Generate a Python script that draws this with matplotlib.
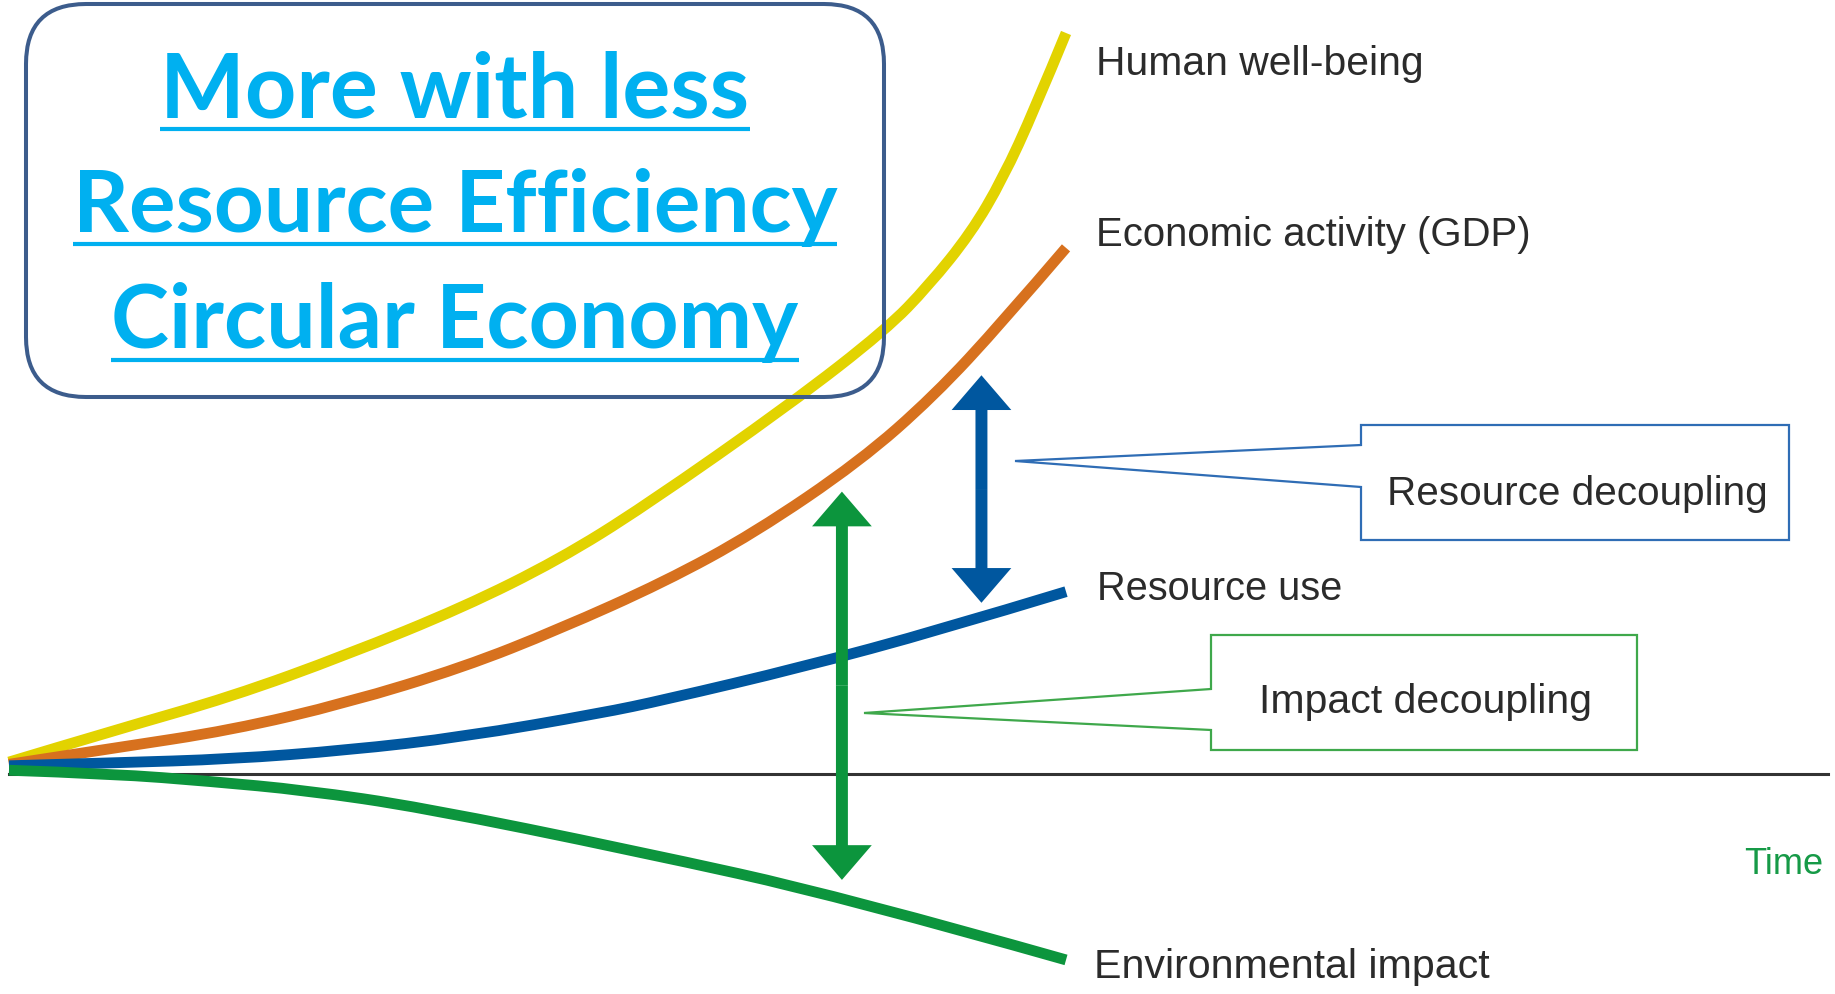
import matplotlib
matplotlib.use('Agg')
import matplotlib.pyplot as plt
from matplotlib.path import Path
from matplotlib.patches import FancyBboxPatch, FancyArrowPatch, Polygon, PathPatch, ArrowStyle

# readings: time in arbitrary units, index values (0 = the time axis)
wellbeing_t = [0, 10, 21, 32, 43, 52, 60, 74, 83, 87, 91, 94, 97, 100]
wellbeing = [1.6, 5.9, 10.4, 16.1, 22.5, 28.9, 36.0, 50.0, 60.0, 65.9, 73.0, 80.3, 89.6, 100.0]
gdp_t = [0, 10, 21, 32, 43, 52, 62, 70.5, 80.5, 87.5, 94, 100]
gdp = [1.3, 3.5, 5.9, 9.6, 14.4, 19.5, 25.9, 32.5, 42.2, 51.0, 61.0, 71.0]
resource_t = [0, 10, 21, 32, 43, 56, 62, 75, 88, 100]
resource_use = [1.1, 1.5, 2.0, 3.2, 5.0, 8.2, 10.0, 14.4, 19.4, 24.6]
impact_t = [0, 10, 19, 28, 39, 59, 79, 100]
env_impact = [0.5, 0.0, -1.0, -2.2, -4.5, -10.3, -16.6, -25.1]

series_names = ['Human well-being', 'Economic activity (GDP)', 'Resource use', 'Environmental impact']
series_colors = ['#E2D300', '#D7711E', '#00579F', '#0C953D']

# decoupling gaps: time, lower end, upper end
gap_names = ['Resource decoupling', 'Impact decoupling']
gap_time = [92.0, 78.8]
gap_low = [23.1, -14.3]
gap_high = [53.8, 38.1]
gap_colors = ['#00579F', '#0C953D']
gap_box_colors = ['#2F6DB5', '#3FA84B']

title_lines = ['More with less', 'Resource Efficiency', 'Circular Economy']

LABEL_FONT = ['Liberation Sans', 'DejaVu Sans']
TITLE_FONT = ['Lato', 'DejaVu Sans']
W, H = 1835, 994


def smooth_path(xs, ys):
    # quadratic B-spline with the readings as control points
    pts = list(zip(xs, ys))
    verts = [pts[0]]
    codes = [Path.MOVETO]
    for i in range(1, len(pts) - 1):
        nxt = pts[i + 1] if i == len(pts) - 2 else ((pts[i][0] + pts[i + 1][0]) / 2,
                                                    (pts[i][1] + pts[i + 1][1]) / 2)
        verts += [pts[i], nxt]
        codes += [Path.CURVE3, Path.CURVE3]
    return Path(verts, codes)


def fit(txt, width_px, renderer):
    bb = txt.get_window_extent(renderer)
    txt.set_fontsize(txt.get_fontsize() * width_px / bb.width)


fig = plt.figure(figsize=(W / 100, H / 100), dpi=100)

# data axes
ax = fig.add_axes([0, 0, 1, 1])
ax.set_xlim(-0.85, 172.75)
ax.set_ylim(-29.7, 104.45)
ax.axis('off')

ax.axhline(0, xmin=0.005, xmax=0.996, color='#333333', lw=2.2, zorder=1)
curves = [(wellbeing_t, wellbeing), (gdp_t, gdp), (resource_t, resource_use), (impact_t, env_impact)]
for (ts, vals), c in zip(curves, series_colors):
    ax.add_patch(PathPatch(smooth_path(ts, vals), fill=False, edgecolor=c, lw=7.8,
                           capstyle='butt', zorder=2))

head = ArrowStyle.Simple(head_length=25, head_width=43, tail_width=8.6)
for t, lo, hi, c in zip(gap_time, gap_low, gap_high, gap_colors):
    mid = (lo + hi) / 2
    for tip in (lo, hi):
        ax.add_patch(FancyArrowPatch((t, mid), (t, tip), arrowstyle=head, mutation_scale=1,
                                     color=c, lw=0, shrinkA=0, shrinkB=0, zorder=3))

# layout axes in pixel units for the annotations
lay = fig.add_axes([0, 0, 1, 1])
lay.set_xlim(0, W)
lay.set_ylim(H, 0)
lay.axis('off')
lay.patch.set_alpha(0)

fitted = []
label_pos = [(1096, 75), (1096, 246), (1097, 600), (1094, 978)]
label_w = [327, 434, 245, 395]
for name, (x, y), w in zip(series_names, label_pos, label_w):
    t = lay.text(x, y, name, family=LABEL_FONT, fontsize=37, color='#2B2B2B',
                 va='baseline', ha='left')
    fitted.append((t, w))
t = lay.text(1744, 874, 'Time', family=LABEL_FONT, fontsize=37, color='#169A47',
             va='baseline', ha='left')
fitted.append((t, 79))

# callout boxes with wedge pointers
callouts = [
    dict(box=(1361, 1789, 425, 540), gap=(445, 487), tip=(1015, 461), text=(1577, 505), w=381),
    dict(box=(1211, 1637, 635, 750), gap=(689, 730), tip=(864, 713), text=(1425, 713), w=333),
]
for name, c, co in zip(gap_names, gap_box_colors, callouts):
    x0, x1, y0, y1 = co['box']
    g0, g1 = co['gap']
    pts = [(x0, g0), (x0, y0), (x1, y0), (x1, y1), (x0, y1), (x0, g1), co['tip']]
    lay.add_patch(Polygon(pts, closed=True, fill=False, edgecolor=c, lw=1.6, joinstyle='miter'))
    t = lay.text(co['text'][0], co['text'][1], name, family=LABEL_FONT, fontsize=37,
                 color='#2B2B2B', va='baseline', ha='center')
    fitted.append((t, co['w']))

# title box
lay.add_patch(FancyBboxPatch((26, 4), 858, 393, boxstyle='round,pad=0,rounding_size=60',
                             fill=False, edgecolor='#3C5C8C', lw=2.9))
baselines = [117, 232, 348]
widths = [589, 765, 687]
texts = []
for line, y, w in zip(title_lines, baselines, widths):
    t = lay.text(455, y, line, family=TITLE_FONT, weight='bold', fontsize=60,
                 color='#00B0F0', va='baseline', ha='center')
    texts.append(t)
    fitted.append((t, w))

fig.canvas.draw()
renderer = fig.canvas.get_renderer()
for t, w in fitted:
    fit(t, w, renderer)
fig.canvas.draw()

inv = lay.transData.inverted()
for txt, y in zip(texts, baselines):
    bb = txt.get_window_extent(renderer)
    (xa, _), (xb, _) = inv.transform([(bb.x0, 0), (bb.x1, 0)])
    lay.plot([xa, xb], [y + 12, y + 12], color='#00B0F0', lw=3, solid_capstyle='butt')

fig.savefig('out.png', dpi=100)
